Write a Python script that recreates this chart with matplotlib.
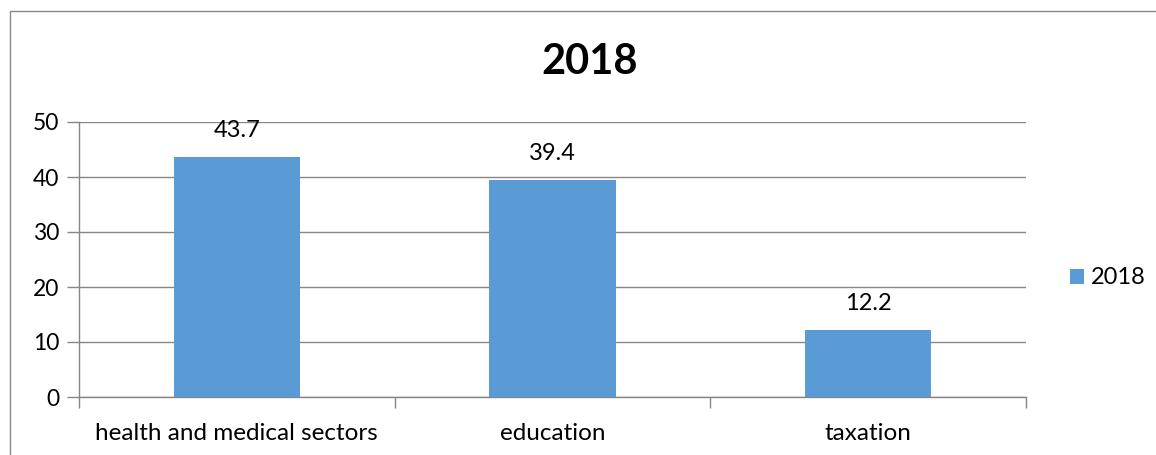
import matplotlib.pyplot as plt
from matplotlib.patches import Rectangle
import numpy as np

categories = ["health and medical sectors", "education", "taxation"]
values = [43.7, 39.4, 12.2]
series_name = "2018"
title = "2018"
yticks = [0, 10, 20, 30, 40, 50]

plt.rcParams['font.family'] = ['Lato', 'DejaVu Sans']

W, H = 1156, 455
fig = plt.figure(figsize=(W / 100, H / 100), dpi=100)

# outer chart border (runs off the right and bottom edges)
fig.patches.append(Rectangle((10 / W, -0.1), 1.2, 1 - 10 / H + 0.1 - 0.0011,
                             transform=fig.transFigure, fill=False,
                             edgecolor='#898989', lw=1.0))

ax = fig.add_axes([79 / W, 1 - 397 / H, (1026 - 79) / W, (397 - 122) / H])
x = np.arange(len(categories))
bars = ax.bar(x, values, width=0.4, color='#5B9BD5', label=series_name, zorder=3)

ax.set_xlim(-0.5, len(categories) - 0.5)
ax.set_ylim(0, 50)
ax.set_yticks(yticks)
ax.set_yticklabels([str(t) for t in yticks], fontsize=16.5)
ax.yaxis.grid(True, color='#868686', lw=1.0, zorder=0)
ax.tick_params(axis='y', length=9, color='#868686', width=1.0, pad=5)

# category labels centered, ticks at category boundaries
ax.set_xticks(x)
ax.set_xticklabels(categories, fontsize=17.5)
ax.tick_params(axis='x', length=0, pad=19)
ax.set_xticks(np.arange(len(categories) + 1) - 0.5, minor=True)
ax.tick_params(axis='x', which='minor', length=8, color='#868686', width=1.0)

for s in ['top', 'right']:
    ax.spines[s].set_visible(False)
for s in ['left', 'bottom']:
    ax.spines[s].set_color('#868686')
    ax.spines[s].set_linewidth(1.0)

for b, v in zip(bars, values):
    ax.annotate(f"{v}", (b.get_x() + b.get_width() / 2, v), xytext=(0, 19),
                textcoords='offset points', ha='center', va='center', fontsize=17)

fig.text(590 / W, 1 - 62 / H, title, ha='center', va='center',
         fontsize=30, fontweight='bold')

leg = fig.legend(handles=[bars], labels=[series_name], loc='center left',
                 bbox_to_anchor=(1058 / W, 1 - 278 / H), frameon=False,
                 fontsize=17, handlelength=0.6, handleheight=0.6,
                 handletextpad=0.3, borderpad=0)

fig.savefig('out.png', dpi=100)
